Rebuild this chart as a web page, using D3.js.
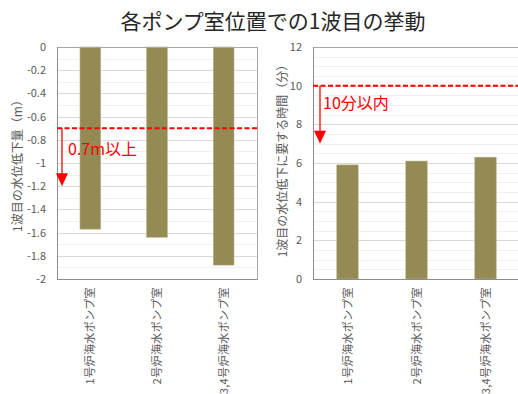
<!DOCTYPE html>
<html><head><meta charset="utf-8">
<script src="https://cdn.jsdelivr.net/npm/d3@7"></script>
<style>
html,body{margin:0;padding:0;background:#fff;}
svg{display:block;font-family:"Noto Sans CJK JP","Noto Sans",sans-serif;}
</style></head>
<body>
<svg id="chart" width="518" height="394"></svg>
<script>
const title = "各ポンプ室位置での1波目の挙動";
const categories = ["1号炉海水ポンプ室","2号炉海水ポンプ室","3,4号炉海水ポンプ室"];
const dropValues = [-1.57, -1.64, -1.88];
const timeValues = [5.9, 6.1, 6.3];
const dropTicks = [0,-0.2,-0.4,-0.6,-0.8,-1,-1.2,-1.4,-1.6,-1.8,-2];
const dropTickLabels = ["0","-0.2","-0.4","-0.6","-0.8","-1","-1.2","-1.4","-1.6","-1.8","-2"];
const timeTicks = [0,2,4,6,8,10,12];
const timeTickLabels = ["0","2","4","6","8","10","12"];
const dropThreshold = -0.7, dropArrowEnd = -1.2, dropNote = "0.7m以上";
const timeThreshold = 10, timeArrowEnd = 7, timeNote = "10分以内";
const dropAxisTitle = "1波目の水位低下量（m）";
const timeAxisTitle = "1波目の水位低下に要する時間（分）";

const svg = d3.select("#chart");
const barColor = "#948A54";
const red = "#FF0000";

svg.append("text").attr("x", 273).attr("y", 29).attr("text-anchor","middle")
  .attr("font-size", 21).attr("fill", "#262626").text(title);

function panel(opts){
  const {x0, x1, y0, y1, domain, ticks, tickLabels, minorStep, values, threshold, arrowEnd, note, axisTitle, titleX, labelRight} = opts;
  const g = svg.append("g");
  const y = d3.scaleLinear().domain(domain).range([y0, y1]);
  const x = d3.scaleBand().domain(categories).range([x0, x1]).paddingInner(0.69).paddingOuter(0.345);
  // minor grid
  const lo = Math.min(...domain), hi = Math.max(...domain);
  const minor = d3.range(Math.round(lo/minorStep), Math.round(hi/minorStep)+1).map(k => k*minorStep);
  g.selectAll(".mn").data(minor).enter().append("line")
    .attr("x1", x0).attr("x2", x1).attr("y1", d => Math.round(y(d))+0.5).attr("y2", d => Math.round(y(d))+0.5)
    .attr("stroke", "#F0F0F0").attr("stroke-width", 1);
  g.selectAll(".mj").data(ticks).enter().append("line")
    .attr("x1", x0).attr("x2", x1).attr("y1", d => Math.round(y(d))+0.5).attr("y2", d => Math.round(y(d))+0.5)
    .attr("stroke", "#D9D9D9").attr("stroke-width", 1);
  // bars
  g.selectAll(".bar").data(values).enter().append("rect")
    .attr("x", (d,i) => x(categories[i]))
    .attr("width", x.bandwidth())
    .attr("y", d => Math.min(y(0), y(d)))
    .attr("height", d => Math.abs(y(d) - y(0)))
    .attr("fill", barColor).attr("stroke", "#B5AD85").attr("stroke-width", 0.6);
  // border
  g.append("rect").attr("x", x0+0.5).attr("y", Math.round(y0)+0.5).attr("width", x1-x0).attr("height", y1-y0)
    .attr("fill", "none").attr("stroke", "#A6A6A6").attr("stroke-width", 1);
  g.append("line").attr("x1", x0+0.5).attr("x2", x0+0.5).attr("y1", y0).attr("y2", y1+0.5).attr("stroke", "#8C8C8C");
  g.append("line").attr("x1", x0).attr("x2", x1).attr("y1", y1+0.5).attr("y2", y1+0.5).attr("stroke", "#8C8C8C");
  // y axis labels
  const yAxis = d3.axisLeft(y).tickValues(ticks).tickSize(0).tickPadding(0)
    .tickFormat((d,i) => tickLabels[i]);
  const ag = g.append("g").attr("transform", `translate(${labelRight},0)`).call(yAxis);
  ag.select(".domain").remove();
  ag.selectAll("text").attr("font-size", 11).attr("fill", "#595959").attr("font-family", '"Noto Sans CJK JP",sans-serif');
  // x axis labels
  const xAxis = d3.axisBottom(x).tickSize(0).tickPadding(0);
  const xg = g.append("g").attr("transform", `translate(0,${y1})`).call(xAxis);
  xg.select(".domain").remove();
  xg.selectAll("text").attr("font-size", 11).attr("fill", "#595959")
    .attr("font-family", '"Noto Sans CJK JP",sans-serif')
    .attr("letter-spacing", 0.4)
    .attr("text-anchor", "end").attr("dy", null).attr("y", 0)
    .attr("transform", "translate(4,8) rotate(-90)");
  // axis title
  g.append("text").attr("transform", `translate(${titleX},${(y0+y1)/2 + opts.titleShift}) rotate(-90)`)
    .attr("text-anchor", "middle").attr("font-size", 12).attr("fill", "#595959").text(axisTitle);
  // threshold dashed line + arrow + note
  const ov = g.append("g");
  ov.append("line").attr("x1", x0).attr("x2", x1+2).attr("y1", y(threshold)).attr("y2", y(threshold))
    .attr("stroke", red).attr("stroke-width", 2).attr("stroke-dasharray", "5,2.5");
  const ax = x0 + opts.arrowDx;
  const tip = y(arrowEnd);
  ov.append("line").attr("x1", ax).attr("x2", ax).attr("y1", y(threshold)).attr("y2", tip - 10)
    .attr("stroke", red).attr("stroke-width", 1.3);
  ov.append("path").attr("d", `M${ax-6},${tip-13}L${ax+6},${tip-13}L${ax},${tip}Z`).attr("fill", red);
  ov.append("text").attr("x", x0 + opts.noteDx).attr("y", y(threshold) + opts.noteDy)
    .attr("font-size", 16).attr("fill", red).text(note);
}

panel({x0:57, x1:257, y0:47, y1:279, domain:[0,-2], ticks:dropTicks, tickLabels:dropTickLabels, minorStep:0.1,
  values:dropValues, threshold:dropThreshold, arrowEnd:dropArrowEnd, note:dropNote, axisTitle:dropAxisTitle,
  titleX:22, titleShift:0, labelRight:46, arrowDx:5, noteDx:11, noteDy:27});
panel({x0:313, x1:520, y0:47, y1:279, domain:[12,0], ticks:timeTicks, tickLabels:timeTickLabels, minorStep:0.5,
  values:timeValues, threshold:timeThreshold, arrowEnd:timeArrowEnd, note:timeNote, axisTitle:timeAxisTitle,
  titleX:287, titleShift:-5, labelRight:302, arrowDx:7, noteDx:10, noteDy:23});
</script>
</body></html>
